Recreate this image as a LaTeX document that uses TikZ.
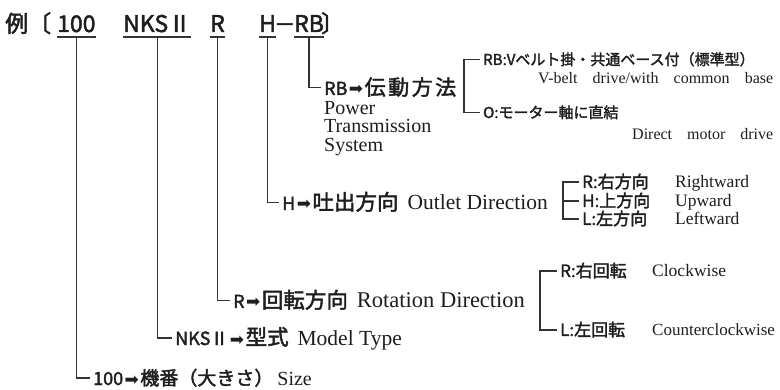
\documentclass[tikz,border=0pt]{standalone}
\usepackage{fontspec}
\setmainfont{Liberation Serif}
\newfontfamily\jp{Noto Sans CJK JP}[FakeBold=2]
\newfontfamily\dv{DejaVu Sans}
\newcommand\jpf[2]{{\jp\fontsize{#1pt}{#1pt}\selectfont #2}}
\newcommand\enf[2]{{\fontsize{#1pt}{#1pt}\selectfont #2}}
\newcommand\arw{\kern1.5pt{\dv\fontsize{17pt}{17pt}\selectfont ➡}\kern1.5pt}
\definecolor{ink}{HTML}{1E1E1E}
\definecolor{lncol}{HTML}{333333}
\begin{document}
\begin{tikzpicture}[x=1pt,y=-1pt,
  every node/.style={inner sep=0pt,anchor=base west,text=ink},
  ln/.style={draw=lncol,line width=1.3pt}]
\useasboundingbox (0,0) rectangle (780,390);
\fill[white] (0,0) rectangle (780,390);
% top row
\node (tex)  at (5,32)   {\jpf{23}{例〔}};
\node (t100) at (57,32)  {\jpf{23}{100}};
\node (tnks) at (123,32) {\jpf{23}{NKSⅡ}};
\node (tr)   at (210,32) {\jpf{23}{R}};
\node (th)   at (259,32) {\jpf{23}{H}};
\node (tdash) at (274,32) {\jpf{21}{－}};
\node (trb)  at (294,32) {\jpf{23}{RB}};
\node (tend) at (321,32) {\jpf{23}{〕}};
\foreach \n in {t100,tnks,tr,th,trb}{
  \draw[ln] ([yshift=-5pt]\n.base west) -- ([yshift=-5pt]\n.base east);
  \coordinate (u\n) at ([yshift=-5pt]\n.base);
}
% branch labels
\node (lrb) at (324,95) {\jpf{18}{RB}\arw\jpf{21}{伝\kern2.5pt動\kern2.5pt方\kern2.5pt法}};
\node[anchor=north west,align=left,font=\fontsize{20pt}{18.5pt}\selectfont] (lpts) at (324,100.8) {Power\\Transmission\\System};
\node (lh) at (282,210) {\jpf{18}{H}\arw\jpf{21.5}{吐出方向}\hspace{9pt}\enf{21.5}{Outlet Direction}};
\node (lr) at (233,308) {\jpf{18}{R}\arw\jpf{21.5}{回転方向}\hspace{9pt}\enf{22.5}{Rotation Direction}};
\node (lnks) at (175,345) {\jpf{18}{NKSⅡ}\arw\jpf{21.5}{型式}\hspace{9pt}\enf{21.5}{Model Type}};
\node (l100) at (93,385) {\jpf{18}{100}\arw\jpf{19}{機番（大きさ）}\hspace{4pt}\enf{20}{Size}};
\draw[ln] (ut100) |- ([shift={(-3pt,7pt)}]l100.base west);
\draw[ln] (utnks) |- ([shift={(-3pt,7pt)}]lnks.base west);
\draw[ln] (utr)   |- ([shift={(-3pt,7.5pt)}]lr.base west);
\draw[ln] (uth)   |- ([shift={(-3pt,7.5pt)}]lh.base west);
\draw[ln] (utrb)  |- ([shift={(-3pt,7.5pt)}]lrb.base west);
% RB options
\node (rb1) at (483,65) {\jpf{15}{RB:Vベルト掛・共通ベース付（標準型）}};
\node (rb1e) at (538,84) {\enf{16}{\makebox[235pt][s]{V-belt drive/with common base}}};
\node (rb2) at (483,118) {\jpf{15}{O:モーター軸に直結}};
\node (rb2e) at (632,140) {\enf{16}{\makebox[141pt][s]{Direct motor drive}}};
\draw[ln] ([shift={(-3pt,5.5pt)}]rb1.base west) -- ++(-16pt,0) |- ([shift={(-3pt,5.5pt)}]rb2.base west);
% H options
\node (h1) at (582,188) {\jpf{17}{R:右方向}};
\node (h2) at (582,207) {\jpf{17}{H:上方向}};
\node (h3) at (582,225) {\jpf{17}{L:左方向}};
\node (h1e) at (675,188) {\enf{17.5}{Rightward}};
\node (h2e) at (675,207) {\enf{17.5}{Upward}};
\node (h3e) at (675,225) {\enf{17.5}{Leftward}};
\coordinate (h2s) at ([shift={(-3pt,6pt)}]h2.base west);
\draw[ln] ([shift={(-3pt,6pt)}]h1.base west) -- ++(-16pt,0) coordinate (hbr) |- ([shift={(-3pt,6pt)}]h3.base west);
\draw[ln] (hbr |- h2s) -- (h2s);
% R options
\node (r1) at (560,277) {\jpf{17}{R:右回転}};
\node (r2) at (560,336) {\jpf{17}{L:左回転}};
\node (r1e) at (652,277) {\enf{17.5}{Clockwise}};
\node (r2e) at (652,336) {\enf{17}{Counterclockwise}};
\draw[ln] ([shift={(-3pt,6pt)}]r1.base west) -- ++(-17pt,0) |- ([shift={(-3pt,6pt)}]r2.base west);
\end{tikzpicture}
\end{document}
